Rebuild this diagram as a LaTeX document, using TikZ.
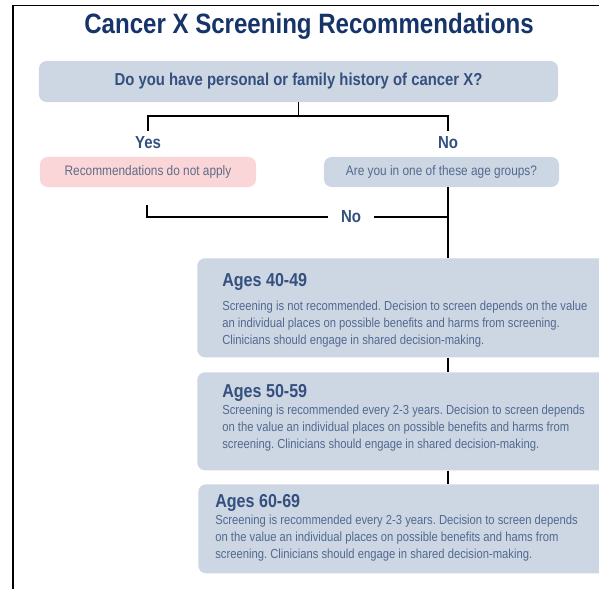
\documentclass[tikz,border=0pt]{standalone}
\usepackage{fontspec}
\setmainfont{Liberation Sans}[FakeStretch=0.86]
\usepackage{xcolor}
\usetikzlibrary{positioning, calc}
\definecolor{navy}{RGB}{22,52,106}
\definecolor{lblblue}{RGB}{52,80,126}
\definecolor{bodyblue}{RGB}{82,106,144}
\definecolor{boxfill}{RGB}{205,214,227}
\definecolor{pinkfill}{RGB}{250,214,216}
\definecolor{pinktext}{RGB}{96,108,134}
\frenchspacing

\begin{document}
\begin{tikzpicture}[
  x=0.025cm, y=-0.025cm,
  frame/.style={line width=1.4pt, black},
  conn/.style={line width=1.3pt, black},
  head/.style={font=\fontsize{19.9pt}{24pt}\selectfont\bfseries, text=navy, inner sep=0pt},
  qbox/.style={fill=boxfill, rounded corners=5.5pt, inner sep=0pt, align=center},
  pbox/.style={fill=pinkfill, rounded corners=5.5pt, inner sep=0pt, align=center},
  lbl/.style={font=\fontsize{12.4pt}{14pt}\selectfont\bfseries, text=lblblue, inner sep=4pt},
  small/.style={font=\fontsize{9.8pt}{11pt}\selectfont},
  agebox/.style={fill=boxfill, rounded corners=5.5pt, inner sep=0pt, anchor=north west,
                 minimum width=10.575cm},
  agehead/.style={font=\fontsize{13.3pt}{15pt}\selectfont\bfseries, text=lblblue,
                  inner sep=0pt, anchor=west},
  agebody/.style={font=\fontsize{9.3pt}{12.1pt}\selectfont, text=bodyblue,
                  inner sep=0pt, anchor=north west, align=left},
]
\useasboundingbox (0,0) rectangle (599,589);
% ===================== frame and title =====================
\draw[frame] (13,589) -- (13,5.5) -- (599,5.5);
\node[head, anchor=base] (title) at (309,34) {Cancer X Screening Recommendations};

% ===================== first question =====================
\node[qbox, minimum width=12.975cm, minimum height=1.025cm,
      font=\fontsize{12.3pt}{14pt}\selectfont\bfseries, text=lblblue]
      (q) at (298.5,81.5) {Do you have personal or family history of cancer X?};
\node[lbl] (yes) at (148,143) {Yes};
\node[lbl] (no) at (448,143) {No};
\draw[conn] (q.south) -- ++(0,14) -| (yes.north);
\draw[conn] (q.south) -- ++(0,14) -| (no.north);

% ===================== answers =====================
\node[pbox, small, text=pinktext, minimum width=5.4cm, minimum height=0.75cm]
      (rec) at (148,172) {Recommendations do not apply};
\node[qbox, small, text=bodyblue, minimum width=5.875cm, minimum height=0.75cm]
      (ageq) at (441.5,172) {Are you in one of these age groups?};

% ===================== "No" branch =====================
\coordinate (noend) at (147,205);
\node[lbl, inner xsep=9pt] (no2) at (351,217) {No};
\draw[conn] (noend) |- (no2.west);
\draw[conn] (no2.east) -- (no2.east -| no.south);

% ===================== age groups =====================
\node[agebox, minimum height=2.475cm] (age1) at (197,258) {};
\node[agehead] (age1t) at (222,282) {Ages 40-49};
\node[agebody] (age1b) at (222,301) {Screening is not recommended. Decision to screen depends on the value\\
  an individual places on possible benefits and harms from screening.\\
  Clinicians should engage in shared decision-making.};

\node[agebox, minimum height=2.45cm] (age2) at (197,372) {};
\node[agehead] (age2t) at (222,393) {Ages 50-59};
\node[agebody] (age2b) at (222,405) {Screening is recommended every 2-3 years. Decision to screen depends\\
  on the value an individual places on possible benefits and harms from\\
  screening. Clinicians should engage in shared decision-making.};

\node[agebox, minimum height=2.225cm] (age3) at (198,484) {};
\node[agehead] (age3t) at (215,503) {Ages 60-69};
\node[agebody] (age3b) at (215,515) {Screening is recommended every 2-3 years. Decision to screen depends\\
  on the value an individual places on possible benefits and hams from\\
  screening. Clinicians should engage in shared decision-making.};

\draw[conn] (no.south |- ageq.south) -- (no.south |- age1.north);
\draw[conn] (no.south |- age1.south) -- (no.south |- age2.north);
\draw[conn] (no.south |- age2.south) -- (no.south |- age3.north);
\end{tikzpicture}
\end{document}
